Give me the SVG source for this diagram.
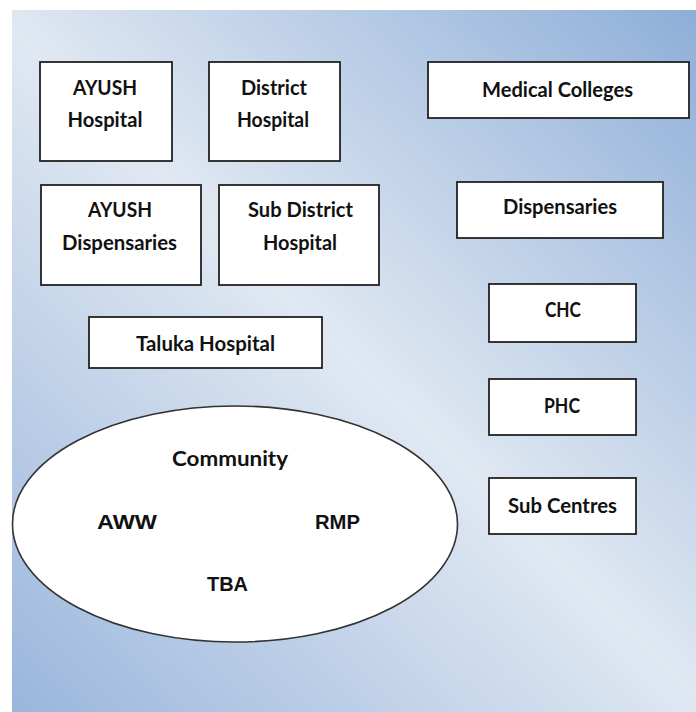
<svg xmlns="http://www.w3.org/2000/svg" width="696" height="712" viewBox="0 0 696 712">
<defs>
<linearGradient id="bg" x1="696" y1="10" x2="12" y2="712" gradientUnits="userSpaceOnUse">
<stop offset="0" stop-color="#8eaed8"/>
<stop offset="0.5" stop-color="#e0e8f2"/>
<stop offset="1" stop-color="#9ab6dc"/>
</linearGradient>
<style>
.box{fill:#fff;stroke:#222;stroke-width:1.8}
.t{font-family:Lato,"Open Sans",sans-serif;font-weight:bold;font-size:20px;fill:#111;text-anchor:middle}
.c{font-family:"Liberation Sans",Arial,sans-serif;font-weight:bold;font-size:21px;fill:#111;text-anchor:middle}
</style>
</defs>
<rect x="0" y="0" width="696" height="712" fill="#fff"/>
<rect x="12" y="10" width="684" height="702" fill="url(#bg)"/>
<g id="connectors"></g>
<g id="ayush-hospital"><rect class="box" x="40" y="62" width="132" height="99"/><text class="t" x="105" y="95" textLength="64" lengthAdjust="spacingAndGlyphs">AYUSH</text><text class="t" x="105" y="127" textLength="75" lengthAdjust="spacingAndGlyphs">Hospital</text></g>
<g id="district-hospital"><rect class="box" x="209" y="62" width="131" height="99"/><text class="t" x="274" y="95" textLength="66" lengthAdjust="spacingAndGlyphs">District</text><text class="t" x="273" y="127" textLength="72" lengthAdjust="spacingAndGlyphs">Hospital</text></g>
<g id="medical-colleges"><rect class="box" x="428" y="62" width="261" height="56"/><text class="t" x="557.5" y="97" textLength="151" lengthAdjust="spacingAndGlyphs">Medical Colleges</text></g>
<g id="ayush-dispensaries"><rect class="box" x="41" y="185" width="160" height="100"/><text class="t" x="120" y="217" textLength="64" lengthAdjust="spacingAndGlyphs">AYUSH</text><text class="t" x="119.5" y="250" textLength="115" lengthAdjust="spacingAndGlyphs">Dispensaries</text></g>
<g id="sub-district-hospital"><rect class="box" x="219" y="185" width="160" height="100"/><text class="t" x="300.5" y="217" textLength="105" lengthAdjust="spacingAndGlyphs">Sub District</text><text class="t" x="300" y="250" textLength="74" lengthAdjust="spacingAndGlyphs">Hospital</text></g>
<g id="taluka-hospital"><rect class="box" x="89" y="317" width="233" height="51"/><text class="t" x="205.5" y="351" textLength="139" lengthAdjust="spacingAndGlyphs">Taluka Hospital</text></g>
<g id="dispensaries"><rect class="box" x="457" y="182" width="206" height="56"/><text class="t" x="560" y="214" textLength="114" lengthAdjust="spacingAndGlyphs">Dispensaries</text></g>
<g id="chc"><rect class="box" x="489" y="284" width="147" height="58"/><text class="t" x="563" y="317" textLength="36" lengthAdjust="spacingAndGlyphs">CHC</text></g>
<g id="phc"><rect class="box" x="489" y="379" width="147" height="56"/><text class="t" x="562" y="413" textLength="36" lengthAdjust="spacingAndGlyphs">PHC</text></g>
<g id="sub-centres"><rect class="box" x="489" y="478" width="147" height="56"/><text class="t" x="562.5" y="513" textLength="109" lengthAdjust="spacingAndGlyphs">Sub Centres</text></g>
<g id="community"><ellipse cx="235" cy="524" rx="222.5" ry="118" fill="#fff" stroke="#333" stroke-width="1.6"/>
<text class="t" x="230" y="466" font-size="21" textLength="116" lengthAdjust="spacingAndGlyphs">Community</text>
<text class="c" x="127" y="529" textLength="60" lengthAdjust="spacingAndGlyphs">AWW</text>
<text class="c" x="337.5" y="529" textLength="45" lengthAdjust="spacingAndGlyphs">RMP</text>
<text class="c" x="227.5" y="591" textLength="41" lengthAdjust="spacingAndGlyphs">TBA</text></g>
</svg>
